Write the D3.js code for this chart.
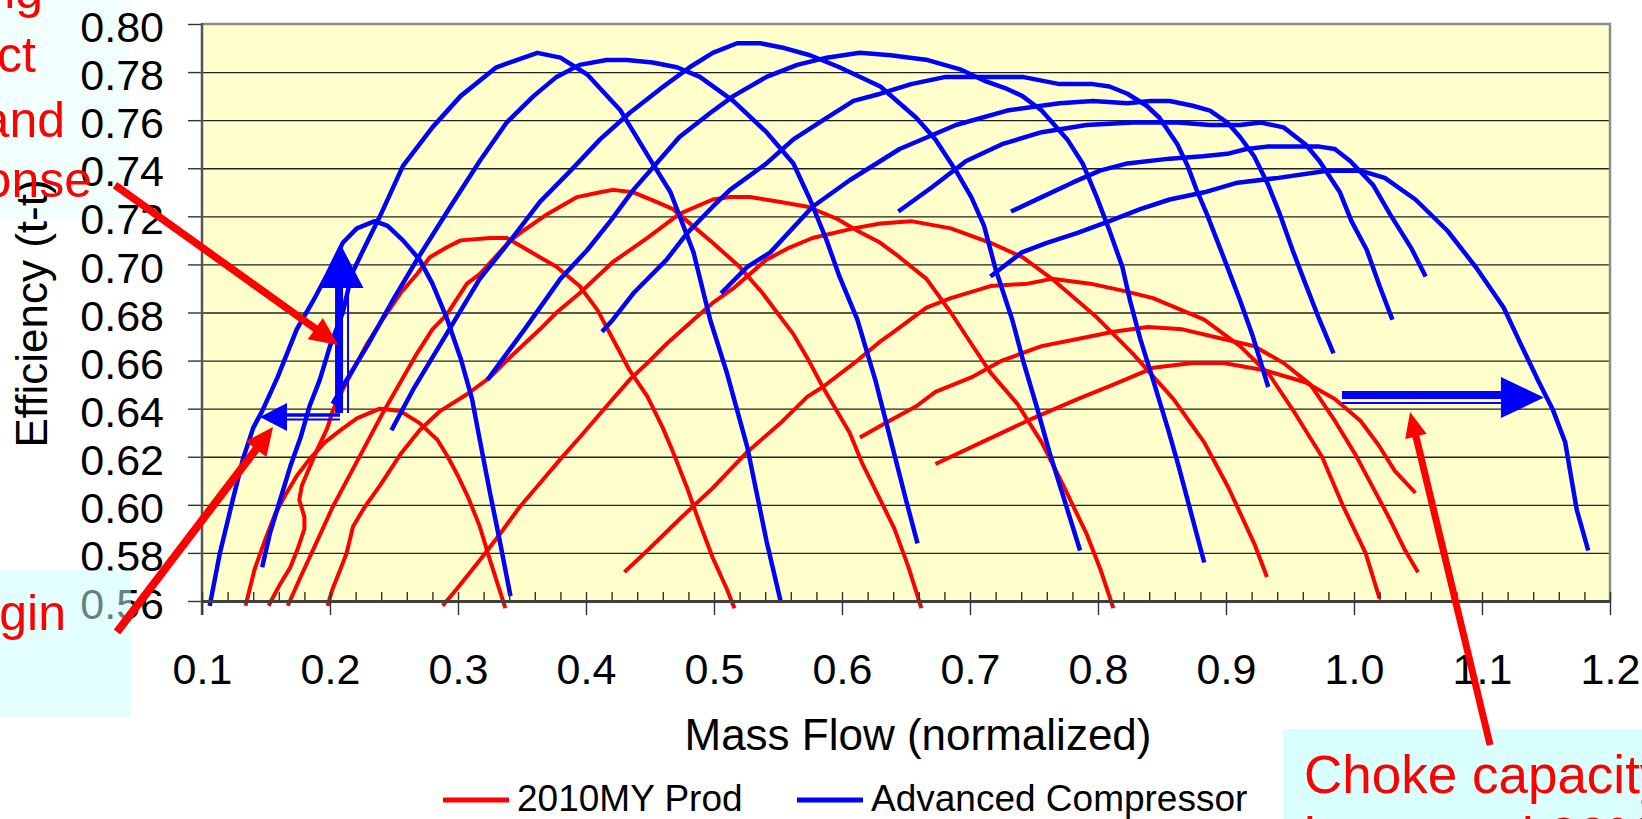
<!DOCTYPE html>
<html><head><meta charset="utf-8">
<script src="https://cdn.jsdelivr.net/npm/d3@7"></script>
<style>html,body{margin:0;padding:0;background:#fff;overflow:hidden}svg{display:block}</style>
</head><body>
<svg id="c" width="1642" height="819"></svg>
<script>
// ---------------- DATA ----------------
const seriesNames = ["2010MY Prod", "Advanced Compressor"];
const seriesColors = ["#FF0000", "#0000FF"];
const xTitle = "Mass Flow (normalized)";
const yTitle = "Efficiency (t-t)";
const xTickValues = [0.1, 0.2, 0.3, 0.4, 0.5, 0.6, 0.7, 0.8, 0.9, 1.0, 1.1, 1.2];
const yTickValues = [0.56, 0.58, 0.60, 0.62, 0.64, 0.66, 0.68, 0.70, 0.72, 0.74, 0.76, 0.78, 0.80];

// 2010MY Prod speed lines: [mass flow, efficiency]
const prod1 = [[0.134,0.558],[0.141,0.573],[0.149,0.585],[0.157,0.596],[0.165,0.604],[0.174,0.612],[0.184,0.619],[0.196,0.626],[0.208,0.631],[0.221,0.636],[0.239,0.640],[0.255,0.639],[0.270,0.634],[0.284,0.627],[0.292,0.620],[0.300,0.612],[0.308,0.603],[0.317,0.591],[0.325,0.577],[0.337,0.557]];
const prod2 = [[0.152,0.558],[0.161,0.567],[0.169,0.574],[0.175,0.582],[0.180,0.590],[0.180,0.595],[0.176,0.602],[0.178,0.608],[0.182,0.613],[0.190,0.623],[0.198,0.632],[0.202,0.639],[0.210,0.648],[0.218,0.656],[0.229,0.667],[0.241,0.677],[0.255,0.688],[0.268,0.696],[0.278,0.703],[0.291,0.707],[0.302,0.710],[0.325,0.711],[0.338,0.711],[0.351,0.707],[0.364,0.703],[0.377,0.699],[0.395,0.691],[0.409,0.681],[0.421,0.669],[0.434,0.656],[0.448,0.645],[0.460,0.632],[0.468,0.622],[0.479,0.607],[0.489,0.592],[0.499,0.578],[0.510,0.565],[0.516,0.557]];
const prod3 = [[0.167,0.558],[0.177,0.570],[0.190,0.585],[0.202,0.599],[0.216,0.613],[0.229,0.626],[0.241,0.638],[0.255,0.651],[0.268,0.663],[0.280,0.673],[0.291,0.679],[0.307,0.692],[0.317,0.696],[0.341,0.710],[0.351,0.714],[0.370,0.721],[0.393,0.728],[0.411,0.730],[0.421,0.731],[0.437,0.730],[0.455,0.726],[0.468,0.723],[0.479,0.718],[0.499,0.709],[0.520,0.699],[0.538,0.688],[0.552,0.678],[0.562,0.671],[0.573,0.661],[0.585,0.649],[0.596,0.639],[0.606,0.630],[0.616,0.617],[0.630,0.602],[0.641,0.590],[0.652,0.574],[0.662,0.557]];
const prod4 = [[0.198,0.558],[0.202,0.565],[0.208,0.573],[0.213,0.580],[0.218,0.591],[0.227,0.599],[0.239,0.608],[0.255,0.621],[0.270,0.631],[0.286,0.639],[0.307,0.646],[0.325,0.653],[0.338,0.660],[0.364,0.673],[0.377,0.680],[0.395,0.688],[0.421,0.701],[0.448,0.711],[0.473,0.721],[0.499,0.727],[0.5125,0.728],[0.528,0.728],[0.552,0.726],[0.573,0.724],[0.596,0.719],[0.612,0.714],[0.630,0.709],[0.645,0.703],[0.666,0.694],[0.685,0.680],[0.701,0.667],[0.716,0.655],[0.737,0.642],[0.756,0.626],[0.772,0.609],[0.791,0.588],[0.802,0.573],[0.812,0.557]];
const prod5 = [[0.288,0.558],[0.299,0.565],[0.317,0.577],[0.333,0.588],[0.348,0.599],[0.364,0.609],[0.380,0.619],[0.395,0.628],[0.416,0.641],[0.434,0.652],[0.448,0.659],[0.463,0.667],[0.484,0.677],[0.499,0.684],[0.515,0.690],[0.541,0.702],[0.559,0.707],[0.577,0.711],[0.609,0.715],[0.630,0.717],[0.654,0.718],[0.685,0.715],[0.716,0.709],[0.741,0.703],[0.764,0.694],[0.799,0.678],[0.827,0.663],[0.859,0.644],[0.883,0.626],[0.902,0.607],[0.922,0.584],[0.932,0.570]];
const prod6 = [[0.430,0.572],[0.448,0.581],[0.473,0.594],[0.499,0.607],[0.526,0.622],[0.552,0.634],[0.573,0.645],[0.585,0.649],[0.612,0.660],[0.630,0.668],[0.638,0.671],[0.666,0.682],[0.685,0.686],[0.716,0.691],[0.745,0.692],[0.764,0.694],[0.794,0.692],[0.820,0.689],[0.843,0.686],[0.883,0.677],[0.911,0.666],[0.934,0.654],[0.954,0.638],[0.975,0.620],[0.991,0.600],[1.009,0.580],[1.020,0.561]];
const prod7 = [[0.614,0.628],[0.634,0.634],[0.658,0.641],[0.673,0.647],[0.701,0.653],[0.725,0.660],[0.756,0.666],[0.784,0.669],[0.812,0.672],[0.839,0.674],[0.866,0.673],[0.898,0.669],[0.922,0.666],[0.945,0.659],[0.966,0.650],[0.985,0.635],[1.001,0.621],[1.016,0.606],[1.028,0.594],[1.040,0.581],[1.050,0.572]];
const prod8 = [[0.673,0.617],[0.709,0.626],[0.745,0.635],[0.784,0.644],[0.812,0.650],[0.843,0.657],[0.874,0.659],[0.898,0.659],[0.930,0.656],[0.962,0.651],[0.985,0.644],[1.005,0.635],[1.019,0.625],[1.032,0.614],[1.048,0.605]];

// Advanced Compressor speed lines
const adv1 = [[0.106,0.558],[0.114,0.580],[0.124,0.602],[0.132,0.619],[0.140,0.632],[0.147,0.639],[0.159,0.653],[0.174,0.673],[0.187,0.685],[0.198,0.696],[0.210,0.709],[0.221,0.715],[0.235,0.718],[0.245,0.716],[0.257,0.710],[0.270,0.702],[0.280,0.692],[0.291,0.678],[0.302,0.661],[0.311,0.644],[0.317,0.627],[0.325,0.605],[0.333,0.584],[0.341,0.562]];
const adv2 = [[0.147,0.574],[0.153,0.588],[0.161,0.602],[0.169,0.616],[0.177,0.628],[0.184,0.641],[0.192,0.652],[0.200,0.666],[0.210,0.680],[0.217,0.696],[0.226,0.706],[0.239,0.720],[0.257,0.741],[0.280,0.757],[0.302,0.770],[0.330,0.782],[0.362,0.788],[0.380,0.786],[0.401,0.779],[0.427,0.764],[0.452,0.742],[0.466,0.730],[0.484,0.705],[0.497,0.677],[0.510,0.655],[0.526,0.624],[0.541,0.585],[0.552,0.560]];
const adv3 = [[0.202,0.642],[0.213,0.652],[0.229,0.666],[0.249,0.685],[0.268,0.702],[0.294,0.724],[0.317,0.743],[0.338,0.759],[0.359,0.770],[0.377,0.778],[0.395,0.783],[0.416,0.785],[0.432,0.785],[0.452,0.784],[0.471,0.782],[0.489,0.778],[0.515,0.768],[0.541,0.755],[0.562,0.742],[0.575,0.727],[0.588,0.710],[0.598,0.695],[0.612,0.677],[0.626,0.652],[0.638,0.627],[0.650,0.602],[0.659,0.584]];
const adv4 = [[0.248,0.631],[0.265,0.648],[0.291,0.671],[0.317,0.694],[0.341,0.710],[0.364,0.726],[0.388,0.739],[0.411,0.752],[0.434,0.763],[0.458,0.773],[0.481,0.782],[0.499,0.788],[0.518,0.792],[0.536,0.792],[0.555,0.790],[0.575,0.787],[0.598,0.782],[0.630,0.774],[0.658,0.761],[0.673,0.752],[0.689,0.739],[0.701,0.728],[0.711,0.716],[0.720,0.698],[0.733,0.677],[0.742,0.659],[0.752,0.641],[0.762,0.622],[0.772,0.605],[0.786,0.581]];
const adv5 = [[0.323,0.652],[0.352,0.673],[0.380,0.694],[0.401,0.706],[0.419,0.718],[0.437,0.731],[0.455,0.742],[0.473,0.753],[0.497,0.763],[0.515,0.770],[0.541,0.778],[0.565,0.783],[0.588,0.786],[0.614,0.788],[0.638,0.787],[0.667,0.785],[0.693,0.781],[0.713,0.776],[0.729,0.773],[0.741,0.770],[0.756,0.764],[0.776,0.752],[0.788,0.742],[0.799,0.728],[0.809,0.714],[0.819,0.699],[0.825,0.685],[0.833,0.669],[0.843,0.652],[0.855,0.631],[0.863,0.616],[0.874,0.594],[0.883,0.576]];
const adv6 = [[0.4125,0.672],[0.421,0.677],[0.437,0.688],[0.463,0.702],[0.479,0.713],[0.499,0.724],[0.5125,0.731],[0.541,0.742],[0.562,0.752],[0.588,0.761],[0.609,0.768],[0.630,0.771],[0.654,0.775],[0.681,0.778],[0.712,0.778],[0.741,0.778],[0.770,0.775],[0.796,0.775],[0.809,0.774],[0.823,0.771],[0.838,0.766],[0.848,0.761],[0.862,0.750],[0.870,0.741],[0.877,0.731],[0.885,0.721],[0.893,0.710],[0.901,0.699],[0.911,0.685],[0.921,0.670],[0.933,0.649]];
const adv7 = [[0.5055,0.688],[0.526,0.699],[0.544,0.705],[0.577,0.724],[0.606,0.735],[0.645,0.748],[0.689,0.758],[0.729,0.764],[0.770,0.767],[0.796,0.768],[0.823,0.767],[0.841,0.768],[0.856,0.768],[0.874,0.766],[0.8875,0.764],[0.901,0.759],[0.911,0.753],[0.922,0.745],[0.933,0.733],[0.942,0.721],[0.952,0.706],[0.962,0.692],[0.973,0.677],[0.984,0.663]];
const adv8 = [[0.644,0.722],[0.670,0.732],[0.697,0.743],[0.725,0.750],[0.756,0.755],[0.791,0.758],[0.827,0.759],[0.8625,0.759],[0.8875,0.758],[0.911,0.758],[0.927,0.759],[0.945,0.757],[0.962,0.750],[0.973,0.743],[0.989,0.730],[0.998,0.718],[1.010,0.706],[1.020,0.691],[1.030,0.677]];
const adv9 = [[0.732,0.722],[0.756,0.728],[0.780,0.734],[0.8015,0.739],[0.823,0.742],[0.856,0.744],[0.882,0.745],[0.901,0.746],[0.916,0.748],[0.932,0.749],[0.952,0.749],[0.973,0.749],[0.985,0.748],[0.997,0.743],[1.006,0.738],[1.015,0.733],[1.028,0.721],[1.0445,0.707],[1.056,0.695]];
const adv10 = [[0.716,0.695],[0.7405,0.705],[0.760,0.709],[0.7835,0.713],[0.809,0.718],[0.833,0.723],[0.856,0.727],[0.883,0.730],[0.909,0.734],[0.941,0.736],[0.979,0.739],[1.005,0.739],[1.024,0.736],[1.048,0.727],[1.073,0.714],[1.095,0.699],[1.117,0.682],[1.131,0.666],[1.1445,0.651],[1.155,0.640],[1.165,0.626],[1.174,0.598],[1.183,0.581]];

const prodLines = [prod1, prod2, prod3, prod4, prod5, prod6, prod7, prod8];
const advLines = [adv1, adv2, adv3, adv4, adv5, adv6, adv7, adv8, adv9, adv10];

// annotation arrows (in data coordinates)
const blueArrows = [
  {from:[0.2094,0.6382], to:[0.2094,0.7072], thick:8, thickOff:-3, thin:2, thinOff:6, headLen:41, headHalf:21.5},
  {from:[0.2078,0.6365], to:[0.1453,0.6365], thick:3.5, thickOff:2, thin:2, thinOff:-2.5, headLen:27, headHalf:14},
  {from:[0.9906,0.6446], to:[1.1484,0.6446], thick:8, thickOff:-2.5, thin:2, thinOff:5.5, headLen:43, headHalf:20.5}
];
const redArrows = [
  {from:[0.032,0.733], to:[0.2063,0.6665], width:7.5, headLen:28, headHalf:13},
  {from:[0.0336,0.5471], to:[0.1555,0.6324], width:8, headLen:28, headHalf:13},
  {from:[1.1063,0.5001], to:[1.0438,0.6386], width:7, headLen:25, headHalf:11}
];
const noteTopLeft = ["Improving", "has direct impact", "on torque and", "transient response"];
const noteMargin = "Surge margin";
const noteChoke = ["Choke capacity", "increased 20%"];

// ---------------- DRAW ----------------
const FONT = '"Liberation Sans", Arial, Helvetica, sans-serif';
const svg = d3.select("#c").attr("font-family", FONT);
const x = d3.scaleLinear().domain([0.1, 1.2]).range([202, 1610]);
const y = d3.scaleLinear().domain([0.56, 0.80]).range([601, 24]);
const X0 = x(0.1), X1 = x(1.2), Y0 = y(0.80), Y1 = y(0.56);

svg.append("rect").attr("width",1642).attr("height",819).attr("fill","#fff");

// top-left note box (behind tick labels and title)
svg.append("rect").attr("x",0).attr("y",0).attr("width",130).attr("height",220).attr("fill","#F2FFFF");

// y title
svg.append("text").attr("transform", `translate(47,${(Y0+Y1)/2+1}) rotate(-90)`)
  .attr("text-anchor","middle").attr("font-size",44).attr("fill","#000").text(yTitle);

// plot background
svg.append("rect").attr("x",X0).attr("y",Y0).attr("width",X1-X0).attr("height",Y1-Y0).attr("fill","#FFFFCC");

// horizontal gridlines
const grid = svg.append("g").attr("transform",`translate(${X0},0)`)
  .call(d3.axisLeft(y).tickValues(yTickValues.filter(v => v > 0.561 && v < 0.799)).tickSize(-(X1-X0)).tickSizeOuter(0).tickFormat(""));
grid.select(".domain").remove();
grid.selectAll(".tick line").attr("stroke","#222").attr("stroke-width",1.4);

// border (top + right)
svg.append("path").attr("d",`M${X0},${Y0}H${X1}V${Y1}`).attr("fill","none").attr("stroke","#8c8c8c").attr("stroke-width",2.5);

// curves
const line = d3.line().x(d => x(d[0])).y(d => y(d[1]));
svg.append("g").selectAll("path").data(prodLines).join("path")
  .attr("d", line).attr("fill","none").attr("stroke",seriesColors[0])
  .attr("stroke-width",4).attr("stroke-linejoin","round").attr("stroke-linecap","butt");
svg.append("g").selectAll("path").data(advLines).join("path")
  .attr("d", line).attr("fill","none").attr("stroke",seriesColors[1])
  .attr("stroke-width",4.5).attr("stroke-linejoin","round").attr("stroke-linecap","butt");

// y axis
const yAxis = svg.append("g").attr("transform",`translate(${X0},0)`)
  .call(d3.axisLeft(y).tickValues(yTickValues).tickSize(14).tickSizeOuter(0).tickPadding(24).tickFormat(d3.format(".2f")));
yAxis.select(".domain").remove();
yAxis.selectAll(".tick line").attr("stroke","#333").attr("stroke-width",1.4);
yAxis.selectAll("text").attr("font-size",43).attr("font-family",FONT).attr("fill","#000").attr("dy","0.41em");
svg.append("line").attr("x1",X0).attr("x2",X0).attr("y1",Y0-1).attr("y2",Y1+14).attr("stroke","#555").attr("stroke-width",2.5);

// x axis: minor (inside) ticks, major (outside) ticks with labels
const minorTicks = d3.range(10, 121, 2).map(v => v / 100);
const xMinor = svg.append("g").attr("transform",`translate(0,${Y1})`)
  .call(d3.axisBottom(x).tickValues(minorTicks).tickSize(-9).tickSizeOuter(0).tickFormat(""));
xMinor.select(".domain").remove();
xMinor.selectAll(".tick line").attr("stroke","#333").attr("stroke-width",1.4);
const xAxis = svg.append("g").attr("transform",`translate(0,${Y1})`)
  .call(d3.axisBottom(x).tickValues(xTickValues).tickSize(14).tickSizeOuter(0).tickFormat(d3.format(".1f")));
xAxis.select(".domain").attr("stroke","#404040").attr("stroke-width",3);
xAxis.selectAll(".tick line").attr("stroke","#333").attr("stroke-width",1.4);
xAxis.selectAll("text").attr("font-size",43).attr("font-family",FONT).attr("fill","#000").attr("y",83).attr("dy",null);

// x title
svg.append("text").attr("x",(X0+X1)/2 + 12).attr("y",750).attr("text-anchor","middle")
  .attr("font-size",44).attr("fill","#000").text(xTitle);

// legend
const legendX = [443, 797];
const lg = svg.append("g").selectAll("g").data(seriesNames).join("g")
  .attr("transform",(d,i) => `translate(${legendX[i]},800)`);
lg.append("line").attr("x1",0).attr("x2",66).attr("y1",0).attr("y2",0)
  .attr("stroke",(d,i) => seriesColors[i]).attr("stroke-width",5);
lg.append("text").attr("x",74).attr("y",11).attr("font-size",37).attr("fill","#000").text(d => d);

// blue arrows
function px(p){ return [x(p[0]), y(p[1])]; }
const ba = svg.append("g");
blueArrows.forEach(a => {
  const [x1,y1] = px(a.from), [x2,y2] = px(a.to);
  const L = Math.hypot(x2-x1,y2-y1), ux = (x2-x1)/L, uy = (y2-y1)/L, nx = -uy, ny = ux;
  const bx = x2 - ux*a.headLen, by = y2 - uy*a.headLen;
  [[a.thick,a.thickOff],[a.thin,a.thinOff]].forEach(([w,o]) => {
    ba.append("line").attr("x1",x1+nx*o).attr("y1",y1+ny*o).attr("x2",bx+nx*o).attr("y2",by+ny*o)
      .attr("stroke","#0000FF").attr("stroke-width",w);
  });
  ba.append("polygon").attr("points",[[x2,y2],[bx+nx*a.headHalf,by+ny*a.headHalf],[bx-nx*a.headHalf,by-ny*a.headHalf]].map(p=>p.join(",")).join(" "))
    .attr("fill","#0000FF");
});

// note boxes
svg.append("rect").attr("x",0).attr("y",570).attr("width",131).attr("height",147).attr("fill","#C8FFFF").attr("fill-opacity",0.5);
svg.append("rect").attr("x",1283).attr("y",729).attr("width",359).attr("height",90).attr("fill","#D9FFFF");

// red arrows
const ra = svg.append("g");
redArrows.forEach(a => {
  const [x1,y1] = px(a.from), [x2,y2] = px(a.to);
  const L = Math.hypot(x2-x1,y2-y1), ux = (x2-x1)/L, uy = (y2-y1)/L, nx = -uy, ny = ux;
  const bx = x2 - ux*a.headLen, by = y2 - uy*a.headLen;
  ra.append("line").attr("x1",x1).attr("y1",y1).attr("x2",bx+ux*2).attr("y2",by+uy*2)
    .attr("stroke","#FF0000").attr("stroke-width",a.width);
  ra.append("polygon").attr("points",[[x2,y2],[bx+nx*a.headHalf,by+ny*a.headHalf],[bx-nx*a.headHalf,by-ny*a.headHalf]].map(p=>p.join(",")).join(" "))
    .attr("fill","#FF0000");
});

// note texts (partly outside the picture, as in the original slide crop)
const tlRight = [43, 36, 65, 92], tlBase = [8, 72, 137, 197];
svg.append("g").selectAll("text").data(noteTopLeft).join("text")
  .attr("x",(d,i) => tlRight[i]).attr("y",(d,i) => tlBase[i]).attr("text-anchor","end")
  .attr("font-size",50).attr("fill","#FF0000").text(d => d);
svg.append("text").attr("x",66).attr("y",630).attr("text-anchor","end")
  .attr("font-size",50).attr("fill","#FF0000").text(noteMargin);
svg.append("g").selectAll("text").data(noteChoke).join("text")
  .attr("x",1304).attr("y",(d,i) => 793 + i*62)
  .attr("font-size",53).attr("fill","#FF0000").text(d => d);
</script>
</body></html>
